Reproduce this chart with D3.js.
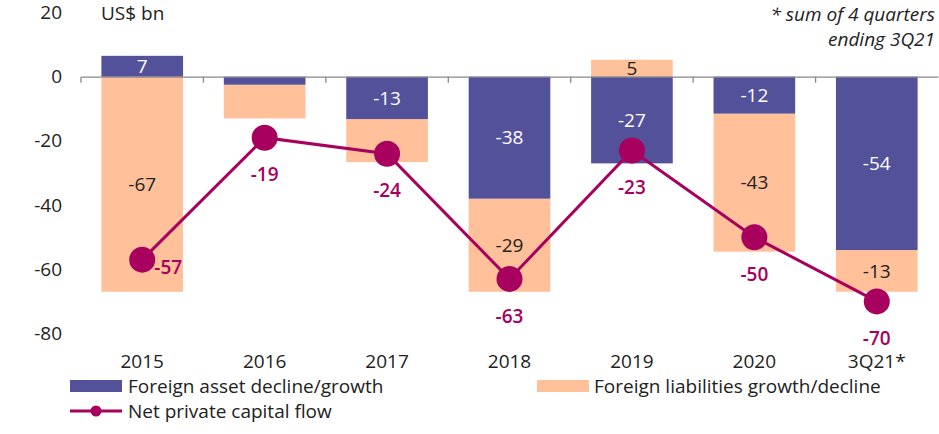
<!DOCTYPE html>
<html><head><meta charset="utf-8">
<script src="https://cdn.jsdelivr.net/npm/d3@7"></script>
<style>body{margin:0;background:#fff}svg{display:block;font-family:"Open Sans",sans-serif}</style>
</head><body><svg id="c" width="939" height="434"></svg>
<script>
const categories = ["2015","2016","2017","2018","2019","2020","3Q21*"];
const assetValues = [6.5, -2.5, -13.2, -38, -27, -11.5, -54];
const liabilityValues = [-67, -10.5, -13.4, -29, 5.3, -43, -13];
const assetLabels = ["7", "", "-13", "-38", "-27", "-12", "-54"];
const liabilityLabels = ["-67", "", "", "-29", "5", "-43", "-13"];
const netValues = [-57, -19, -24, -63, -23, -50, -70];
const yTicks = [20, 0, -20, -40, -60, -80];

const purple = "#525199", orange = "#FFC09A", magenta = "#A8005E";
const FS = 19;
const svg = d3.select("#c");
const x = d3.scaleBand().domain(categories).range([81, 938]).paddingInner(0.333).paddingOuter(0.1665);
const y = d3.scaleLinear().domain([-80, 20]).range([333.5, 12.5]);

// y tick labels
const yAxis = d3.axisLeft(y).tickValues(yTicks).tickSize(0).tickPadding(0).tickFormat(d => String(d));
const ga = svg.append("g").attr("transform", "translate(62,0)").call(yAxis);
ga.select(".domain").remove();
ga.selectAll("text").attr("font-size", FS).attr("fill", "#222").attr("font-family", "Open Sans, sans-serif");

svg.append("text").attr("x", 101).attr("y", 20).attr("font-size", FS).attr("fill", "#222").text("US$ bn");
svg.append("text").attr("x", 935).attr("y", 21).attr("text-anchor", "end").attr("font-size", 19).attr("font-style", "italic").attr("fill", "#222").text("* sum of 4 quarters");
svg.append("text").attr("x", 935).attr("y", 46).attr("text-anchor", "end").attr("font-size", 19).attr("font-style", "italic").attr("fill", "#222").text("ending 3Q21");

// bars
const data = categories.map((c, i) => {
  const a = assetValues[i], l = liabilityValues[i];
  const aSeg = [0, a];
  let lSeg;
  if (l >= 0) lSeg = a >= 0 ? [a, a + l] : [0, l];
  else lSeg = a < 0 ? [a, a + l] : [0, l];
  return {c, aSeg, lSeg, al: assetLabels[i], ll: liabilityLabels[i]};
});
const g = svg.append("g");
data.forEach(d => {
  g.append("rect").attr("x", x(d.c)).attr("width", x.bandwidth())
    .attr("y", y(Math.max(...d.lSeg))).attr("height", Math.abs(y(d.lSeg[0]) - y(d.lSeg[1]))).attr("fill", orange);
  g.append("rect").attr("x", x(d.c)).attr("width", x.bandwidth())
    .attr("y", y(Math.max(...d.aSeg))).attr("height", Math.abs(y(d.aSeg[0]) - y(d.aSeg[1]))).attr("fill", purple);
  if (d.al) g.append("text").attr("x", x(d.c) + x.bandwidth()/2).attr("y", (y(d.aSeg[0]) + y(d.aSeg[1]))/2)
    .attr("dy", "0.35em").attr("text-anchor", "middle").attr("font-size", FS).attr("fill", "#fff").text(d.al);
  if (d.ll) g.append("text").attr("x", x(d.c) + x.bandwidth()/2).attr("y", (y(d.lSeg[0]) + y(d.lSeg[1]))/2)
    .attr("dy", "0.35em").attr("text-anchor", "middle").attr("font-size", FS).attr("fill", "#222").text(d.ll);
});

// x axis
const xAxis = d3.axisBottom(x).tickSize(0).tickPadding(0);
const gx = svg.append("g").attr("transform", `translate(0,${y(0)})`).call(xAxis);
gx.select(".domain").attr("stroke", "#888").attr("stroke-width", 1.3);
gx.selectAll("text").attr("font-size", FS).attr("fill", "#222").attr("font-family", "Open Sans, sans-serif").attr("dy", 0).attr("y", y(-80) - y(0) + 35);
const step = x.step();
const bounds = d3.range(categories.length).map(i => x(categories[i]) - x.paddingInner()*step/2);
svg.append("g").selectAll("line").data(bounds).join("line")
  .attr("x1", d => d).attr("x2", d => d).attr("y1", y(0)).attr("y2", y(0) + 6).attr("stroke", "#888").attr("stroke-width", 1.3);

// net line
const cx = c => x(c) + x.bandwidth()/2;
const line = d3.line().x((d, i) => cx(categories[i])).y(d => y(d));
svg.append("path").datum(netValues).attr("d", line).attr("fill", "none").attr("stroke", magenta).attr("stroke-width", 3);
svg.append("g").selectAll("circle").data(netValues).join("circle")
  .attr("cx", (d, i) => cx(categories[i])).attr("cy", d => y(d)).attr("r", 13).attr("fill", magenta);
svg.append("g").selectAll("text").data(netValues).join("text")
  .attr("x", (d, i) => i === 0 ? cx(categories[i]) + 26 : cx(categories[i]))
  .attr("y", (d, i) => i === 0 ? y(d) + 8 : y(d) + 37)
  .attr("dy", "0.35em").attr("text-anchor", "middle").attr("font-size", FS).attr("font-weight", 600)
  .attr("fill", magenta).text(d => d);

// legend
const lg = svg.append("g").attr("font-size", FS).attr("fill", "#222");
lg.append("rect").attr("x", 70).attr("y", 380).attr("width", 52).attr("height", 12).attr("fill", purple);
lg.append("text").attr("x", 128).attr("y", 386).attr("dy", "0.35em").text("Foreign asset decline/growth");
lg.append("rect").attr("x", 537).attr("y", 380).attr("width", 52).attr("height", 12).attr("fill", orange);
lg.append("text").attr("x", 594).attr("y", 386).attr("dy", "0.35em").text("Foreign liabilities growth/decline");
lg.append("line").attr("x1", 70).attr("x2", 122).attr("y1", 411).attr("y2", 411).attr("stroke", magenta).attr("stroke-width", 3);
lg.append("circle").attr("cx", 96).attr("cy", 411).attr("r", 5.5).attr("fill", magenta);
lg.append("text").attr("x", 128).attr("y", 411).attr("dy", "0.35em").text("Net private capital flow");
</script></body></html>
